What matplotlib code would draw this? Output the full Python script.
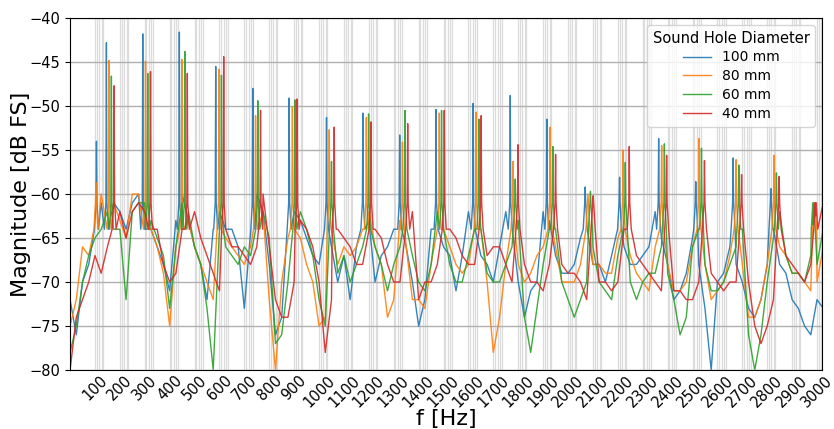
import matplotlib
matplotlib.use("Agg")
import matplotlib.pyplot as plt

# base frequency grid (Hz) shared by all four spectra
base_f = list(range(0, 3026, 25))

# broadband level of each spectrum on the base grid (dB FS)
base_100 = [-72, -76, -70, -68, -63, -61, -58, -61, -62, -64, -61, -60, -62, -64, -66, -68, -71, -63, -60, -63,
            -66, -68, -72, -64, -62, -64, -64, -66, -73, -63, -60, -62, -68, -76, -74, -66, -62, -63, -65, -67,
            -68, -66, -66, -70, -67, -72, -66, -62, -63, -70, -67, -66, -64, -60, -66, -70, -75, -72, -64, -62,
            -66, -67, -71, -67, -62, -60, -67, -68, -70, -66, -62, -60, -70, -74, -71, -70, -62, -63, -67, -69,
            -69, -68, -65, -66, -68, -68, -70, -67, -63, -66, -68, -68, -67, -66, -62, -65, -68, -72, -71, -69,
            -65, -68, -73, -80, -70, -69, -66, -68, -70, -73, -74, -72, -68, -64, -68, -69, -72, -73, -75, -76,
            -72, -73]
base_80 = [-75, -72, -66, -67, -62, -60, -60, -61, -63, -65, -60, -60, -62, -64, -66, -69, -75, -66, -61, -63,
           -66, -68, -70, -72, -62, -65, -66, -67, -68, -66, -61, -62, -72, -80, -70, -65, -62, -65, -68, -70,
           -75, -74, -62, -68, -66, -67, -66, -64, -62, -66, -68, -74, -72, -63, -66, -72, -72, -73, -68, -62,
           -64, -66, -68, -69, -68, -62, -64, -70, -78, -74, -68, -64, -68, -70, -69, -67, -66, -63, -66, -70,
           -70, -70, -68, -67, -68, -68, -69, -69, -65, -63, -67, -69, -70, -71, -66, -64, -68, -71, -71, -70,
           -66, -63, -68, -72, -71, -70, -67, -64, -68, -74, -74, -72, -68, -63, -66, -67, -69, -69, -70, -71,
           -70, -66]
base_60 = [-78, -75, -70, -67, -65, -64, -62, -62, -64, -72, -62, -61, -61, -63, -65, -67, -73, -66, -61, -62,
           -66, -68, -73, -80, -66, -66, -67, -68, -66, -67, -61, -62, -65, -77, -76, -70, -63, -62, -64, -67,
           -72, -75, -65, -69, -67, -70, -68, -66, -62, -66, -68, -71, -68, -66, -62, -67, -70, -71, -68, -62,
           -64, -68, -70, -70, -67, -64, -62, -69, -70, -70, -68, -66, -63, -74, -78, -73, -68, -64, -64, -70,
           -72, -74, -72, -70, -66, -70, -71, -72, -67, -64, -70, -72, -70, -69, -69, -66, -69, -72, -76, -74,
           -66, -64, -68, -71, -71, -70, -68, -66, -64, -76, -80, -76, -70, -65, -62, -67, -69, -69, -70, -67,
           -68, -64]
base_40 = [-80, -74, -72, -70, -67, -69, -66, -64, -62, -65, -62, -61, -62, -62, -64, -68, -70, -69, -64, -60,
           -62, -65, -67, -69, -71, -63, -66, -66, -67, -68, -66, -60, -66, -72, -74, -74, -70, -63, -64, -66,
           -70, -78, -72, -64, -65, -66, -68, -68, -66, -64, -65, -68, -70, -70, -64, -62, -72, -70, -70, -68,
           -64, -64, -65, -67, -68, -68, -63, -67, -66, -66, -68, -70, -62, -68, -70, -70, -71, -68, -62, -68,
           -69, -69, -70, -72, -68, -70, -70, -71, -70, -64, -62, -67, -68, -69, -70, -71, -64, -71, -71, -72,
           -72, -70, -63, -69, -70, -71, -70, -70, -65, -70, -75, -77, -75, -72, -64, -67, -68, -69, -70, -68,
           -66, -61]

# resonance peaks: frequency (Hz) and level (dB FS)
peak_f_100 = [106, 146, 292, 439, 585, 734, 880, 1030, 1176, 1324, 1470, 1619, 1768, 1915, 2069, 2207, 2364, 2513, 2663, 2815]
peak_db_100 = [-54.0, -42.8, -41.8, -41.6, -45.5, -48.0, -49.1, -51.3, -50.8, -53.3, -50.4, -49.7, -48.8, -51.5, -59.2, -58.1, -53.7, -58.6, -55.9, -59.4]
peak_f_80 = [104, 157, 303, 449, 598, 745, 893, 1041, 1190, 1335, 1483, 1631, 1779, 1928, 2080, 2221, 2376, 2526, 2675, 2827, 2990]
peak_db_80 = [-58.7, -44.8, -44.9, -44.7, -45.8, -51.1, -50.1, -52.7, -51.3, -54.1, -50.8, -50.7, -56.3, -52.4, -60.0, -55.0, -54.5, -53.7, -56.1, -55.6, -62.0]
peak_f_60 = [166, 312, 461, 608, 754, 903, 1050, 1199, 1345, 1492, 1642, 1788, 1939, 2090, 2230, 2387, 2536, 2686, 2837, 2985]
peak_db_60 = [-46.6, -46.3, -43.8, -46.5, -49.4, -49.3, -56.3, -50.9, -50.5, -50.5, -51.5, -58.3, -54.6, -59.7, -56.4, -54.3, -54.8, -56.7, -57.6, -63.5]
peak_f_40 = [177, 323, 471, 617, 765, 912, 1061, 1209, 1356, 1503, 1651, 1799, 1950, 2101, 2246, 2396, 2548, 2697, 2848, 2995]
peak_db_40 = [-47.7, -46.1, -46.3, -44.4, -50.5, -49.2, -52.4, -51.8, -52.0, -50.5, -51.1, -54.4, -55.5, -60.2, -54.6, -55.6, -56.2, -57.8, -58.0, -62.5]
# level at the foot of each spike, close in and a little further out
shoulder_db = -61
skirt_db = -64

labels = ["100 mm", "80 mm", "60 mm", "40 mm"]
colors = ["#1f77b4", "#ff7f0e", "#2ca02c", "#d62728"]

# light reference lines that sit just above every 100 Hz
grid_offsets = [0, 7, 17, 27, 33]


def build(base, pf, pdb):
    pts = [(f, d) for f, d in zip(base_f, base)
           if min(abs(f - p) for p in pf) > 9]
    for f, d in zip(pf, pdb):
        pts += [(f - 8, skirt_db), (f - 2, shoulder_db), (f, d),
                (f + 2, shoulder_db), (f + 8, skirt_db)]
    pts.sort()
    return [p[0] for p in pts], [p[1] for p in pts]


series = [build(base_100, peak_f_100, peak_db_100),
          build(base_80, peak_f_80, peak_db_80),
          build(base_60, peak_f_60, peak_db_60),
          build(base_40, peak_f_40, peak_db_40)]

fig = plt.figure(figsize=(8.34, 4.29), dpi=100)
ax = fig.add_axes([0.084, 0.1375, 0.9016, 0.8205])

for k in range(100, 3001, 100):
    for o in grid_offsets:
        ax.axvline(k + o, color="#dcdcdc", lw=0.9, zorder=0)

for (x, y), lab, c in zip(series, labels, colors):
    ax.plot(x, y, color=c, lw=1.0, alpha=0.9, label=lab)

ax.set_xlim(0, 3020)
ax.set_ylim(-80, -40)
ax.set_xticks(range(100, 3001, 100))
ax.tick_params(axis="x", labelrotation=45, length=0, labelsize=10.5, pad=2)
ax.tick_params(axis="y", labelsize=10.5)
ax.yaxis.grid(True, color="#b0b0b0", lw=1.0)
ax.set_axisbelow(True)
ax.set_xlabel("f [Hz]", fontsize=16, labelpad=-1)
ax.set_ylabel("Magnitude [dB FS]", fontsize=16, labelpad=-1)
ax.legend(title="Sound Hole Diameter", loc="upper right", fontsize=10, title_fontsize=10.5,
          labelspacing=0.35)

fig.savefig("out.png", dpi=100)
